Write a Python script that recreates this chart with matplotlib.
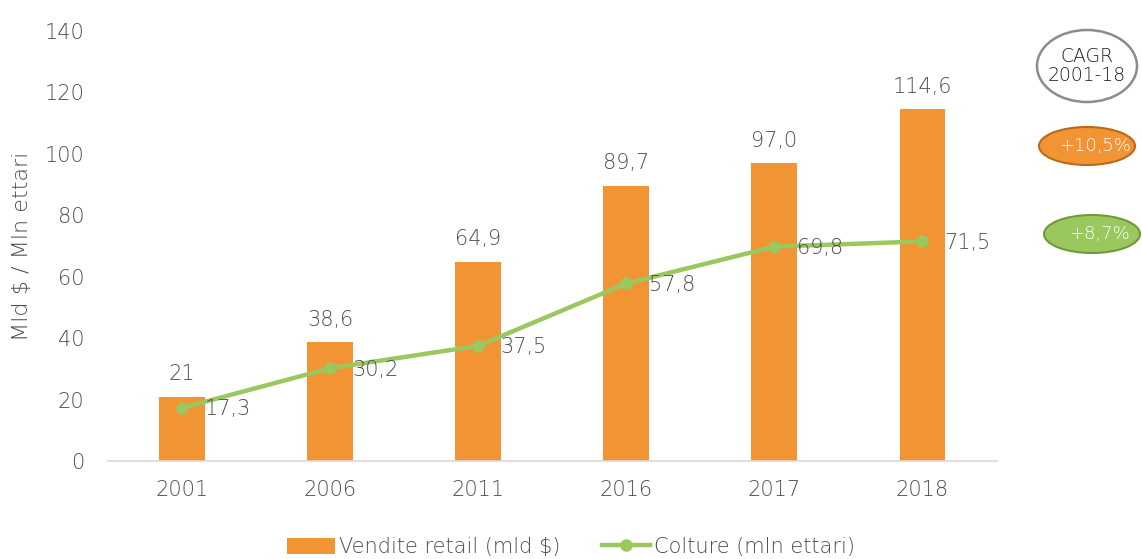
import matplotlib
matplotlib.use("Agg")
import matplotlib.pyplot as plt
from matplotlib.patches import Ellipse, Patch
from matplotlib.lines import Line2D

years = ["2001", "2006", "2011", "2016", "2017", "2018"]
vendite = [21, 38.6, 64.9, 89.7, 97.0, 114.6]
vendite_labels = ["21", "38,6", "64,9", "89,7", "97,0", "114,6"]
colture = [17.3, 30.2, 37.5, 57.8, 69.8, 71.5]
colture_labels = ["17,3", "30,2", "37,5", "57,8", "69,8", "71,5"]
yticks = [0, 20, 40, 60, 80, 100, 120, 140]
cagr_title = "CAGR\n2001-18"
cagr_vendite = "+10,5%"
cagr_colture = "+8,7%"

ORANGE = "#F39434"
GREEN = "#9BC75F"
TXT = "#4D4D4D"

plt.rcParams['font.family'] = ['DejaVu Sans']
WEIGHT = "light"

fig = plt.figure(figsize=(11.42, 5.59), dpi=100)
ax = fig.add_axes([0.0946, 0.1753, 0.778, 0.7692])

x = list(range(len(years)))
ax.bar(x, vendite, width=0.31, color=ORANGE, zorder=2)
ax.plot(x, colture, color=GREEN, lw=3.2, marker="o", ms=8, zorder=3)

FS = 15
for xi, v, lab in zip(x, vendite, vendite_labels):
    ax.annotate(lab, (xi, v), xytext=(0, 9), textcoords="offset points",
                ha="center", va="bottom", fontsize=FS, color=TXT, fontweight=WEIGHT)
for xi, v, lab in zip(x, colture, colture_labels):
    ax.annotate(lab, (xi, v), xytext=(16, -1), textcoords="offset points",
                ha="left", va="center", fontsize=FS, color=TXT, fontweight=WEIGHT,
                zorder=4)

ax.set_xlim(-0.5, len(years) - 0.5)
ax.set_ylim(0, 140)
ax.set_yticks(yticks)
ax.set_xticks(x)
ax.set_xticklabels(years)
ax.tick_params(axis="both", length=0, labelsize=FS, labelcolor=TXT)
ax.tick_params(axis="x", pad=14)
ax.tick_params(axis="y", pad=17)
for lab in ax.get_xticklabels() + ax.get_yticklabels():
    lab.set_fontweight(WEIGHT)
for s in ["top", "right", "left"]:
    ax.spines[s].set_visible(False)
ax.spines["bottom"].set_color("#D9D9D9")
ax.spines["bottom"].set_linewidth(1.2)
ax.set_ylabel("Mld $ / Mln ettari", fontsize=16, color=TXT, fontweight=WEIGHT, labelpad=9)

# CAGR ellipses (figure coordinates in pixels)
W, H = 1142, 559
def fx(px): return px / W
def fy(py): return 1 - py / H

e1 = Ellipse((fx(1087), fy(66)), 100 / W, 72 / H, transform=fig.transFigure,
             facecolor="white", edgecolor="#8C8C8C", lw=1.8)
fig.add_artist(e1)
fig.text(fx(1087), fy(66), cagr_title, ha="center", va="center", fontsize=13.5,
         color="#1F1F1F", linespacing=1.05, fontweight=WEIGHT)
e2 = Ellipse((fx(1087), fy(146)), 96 / W, 38 / H, transform=fig.transFigure,
             facecolor=ORANGE, edgecolor="#B86A1E", lw=1.5)
fig.add_artist(e2)
fig.text(fx(1095), fy(146), cagr_vendite, ha="center", va="center", fontsize=13,
         color="white", fontweight=WEIGHT)
e3 = Ellipse((fx(1092), fy(234)), 96 / W, 38 / H, transform=fig.transFigure,
             facecolor=GREEN, edgecolor="#6F9A3A", lw=1.5)
fig.add_artist(e3)
fig.text(fx(1099), fy(234), cagr_colture, ha="center", va="center", fontsize=13,
         color="white", fontweight=WEIGHT)

handles = [Patch(facecolor=ORANGE, edgecolor="none"),
           Line2D([0], [0], color=GREEN, lw=3.2, marker="o", ms=8)]
leg = fig.legend(handles, ["Vendite retail (mld $)", "Colture (mln ettari)"],
                 loc="center", bbox_to_anchor=(fx(571), fy(547)), ncol=2, frameon=False,
                 fontsize=FS, handlelength=2.3, handletextpad=0.2, columnspacing=2.0,
                 handleheight=0.8)
for t in leg.get_texts():
    t.set_color(TXT)
    t.set_fontweight(WEIGHT)

fig.savefig("out.png", dpi=100)
